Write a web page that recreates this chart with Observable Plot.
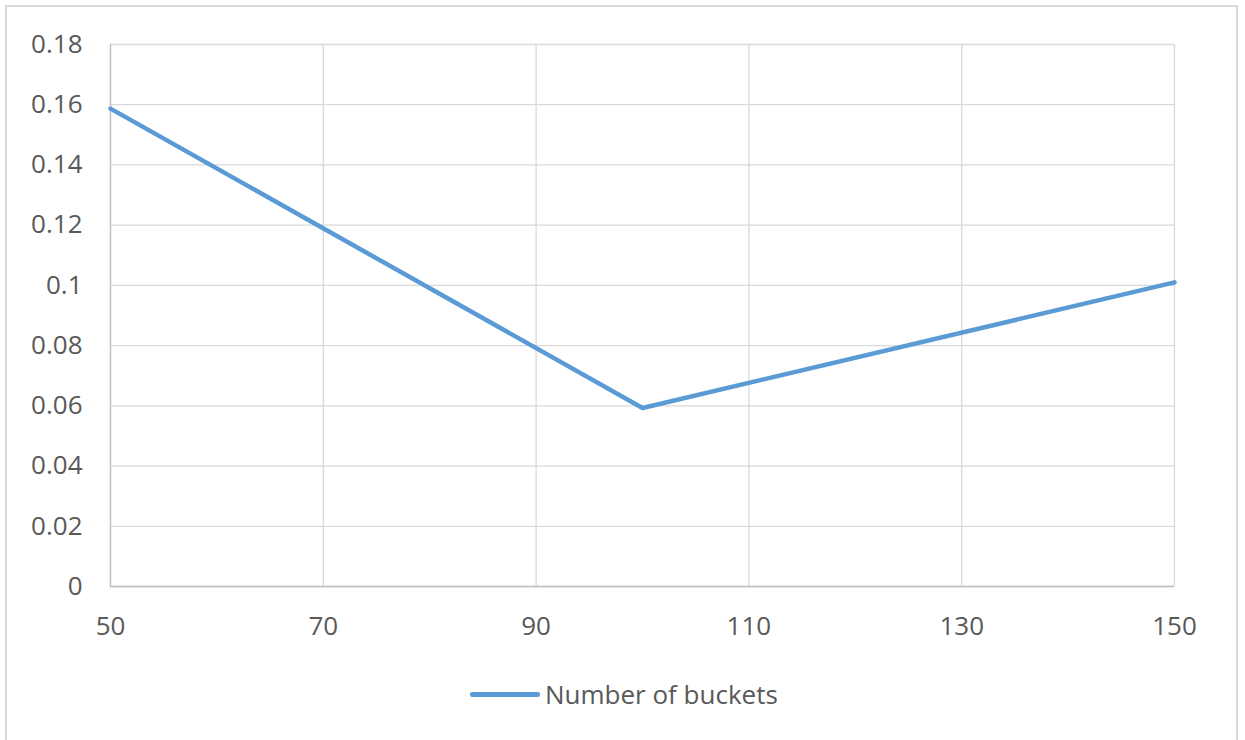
<!DOCTYPE html>
<html>
<head>
<meta charset="utf-8">
<script src="https://cdn.jsdelivr.net/npm/d3@7"></script>
<script src="https://cdn.jsdelivr.net/npm/@observablehq/plot@0.6"></script>
<style>
  html, body { margin: 0; padding: 0; background: #fff; overflow: hidden; }
  #frame { position: absolute; left: 5px; top: 5px; width: 1233px; height: 780px; border: 2px solid #d9d9d9; box-sizing: border-box; }
  #chart { position: absolute; left: 0; top: 0; }
  #legend { position: absolute; left: 0; top: 676px; width: 1245px; height: 36px; font-family: "Open Sans", sans-serif; font-size: 26px; color: #595959; }
  #legend .sw { position: absolute; left: 470px; top: 16px; width: 70px; height: 4.5px; background: #5b9bd5; border-radius: 2px; }
  #legend .tx { position: absolute; left: 545px; top: 0; line-height: 36px; white-space: nowrap; }
</style>
</head>
<body>
<div id="frame"></div>
<div id="chart"></div>
<div id="legend"><span class="sw"></span><span class="tx" id="legendText"></span></div>
<script>
const seriesName = "Number of buckets";
const xValues = [50, 100, 150];
const yValues = [0.1587, 0.0593, 0.101];
const xTicks = [50, 70, 90, 110, 130, 150];
const yTicks = [0, 0.02, 0.04, 0.06, 0.08, 0.1, 0.12, 0.14, 0.16, 0.18];

document.getElementById("legendText").textContent = seriesName;
const data = xValues.map((x, i) => ({x, y: yValues[i]}));
const fmt = d => String(+d.toFixed(2));

const chart = Plot.plot({
  width: 1245,
  height: 650,
  marginLeft: 110,
  marginRight: 71,
  marginTop: 44,
  marginBottom: 64,
  style: { fontFamily: "'Open Sans', sans-serif", fontSize: "26px", color: "#595959", background: "transparent", overflow: "visible" },
  x: { domain: [50, 150], ticks: xTicks, tickFormat: d => String(d), label: null, tickSize: 0, tickPadding: 28 },
  y: { domain: [0, 0.18], ticks: yTicks, tickFormat: fmt, label: null, tickSize: 0, tickPadding: 28 },
  marks: [
    Plot.gridY(yTicks, { stroke: "#d9d9d9", strokeOpacity: 1, strokeWidth: 1.3 }),
    Plot.gridX(xTicks, { stroke: "#d9d9d9", strokeOpacity: 1, strokeWidth: 1.3 }),
    Plot.ruleY([0], { stroke: "#bfbfbf", strokeWidth: 1.3 }),
    Plot.ruleX([50], { stroke: "#bfbfbf", strokeWidth: 1.3 }),
    Plot.axisY(yTicks, { tickFormat: fmt, tickSize: 0, tickPadding: 28, fontSize: 26, fill: "#595959" }),
    Plot.axisX(xTicks, { tickFormat: d => String(d), tickSize: 0, tickPadding: 30, fontSize: 26, fill: "#595959" }),
    Plot.line(data, { x: "x", y: "y", stroke: "#5b9bd5", strokeWidth: 4.5, strokeLinejoin: "round", strokeLinecap: "round" })
  ]
});
document.getElementById("chart").appendChild(chart);
</script>
</body>
</html>
